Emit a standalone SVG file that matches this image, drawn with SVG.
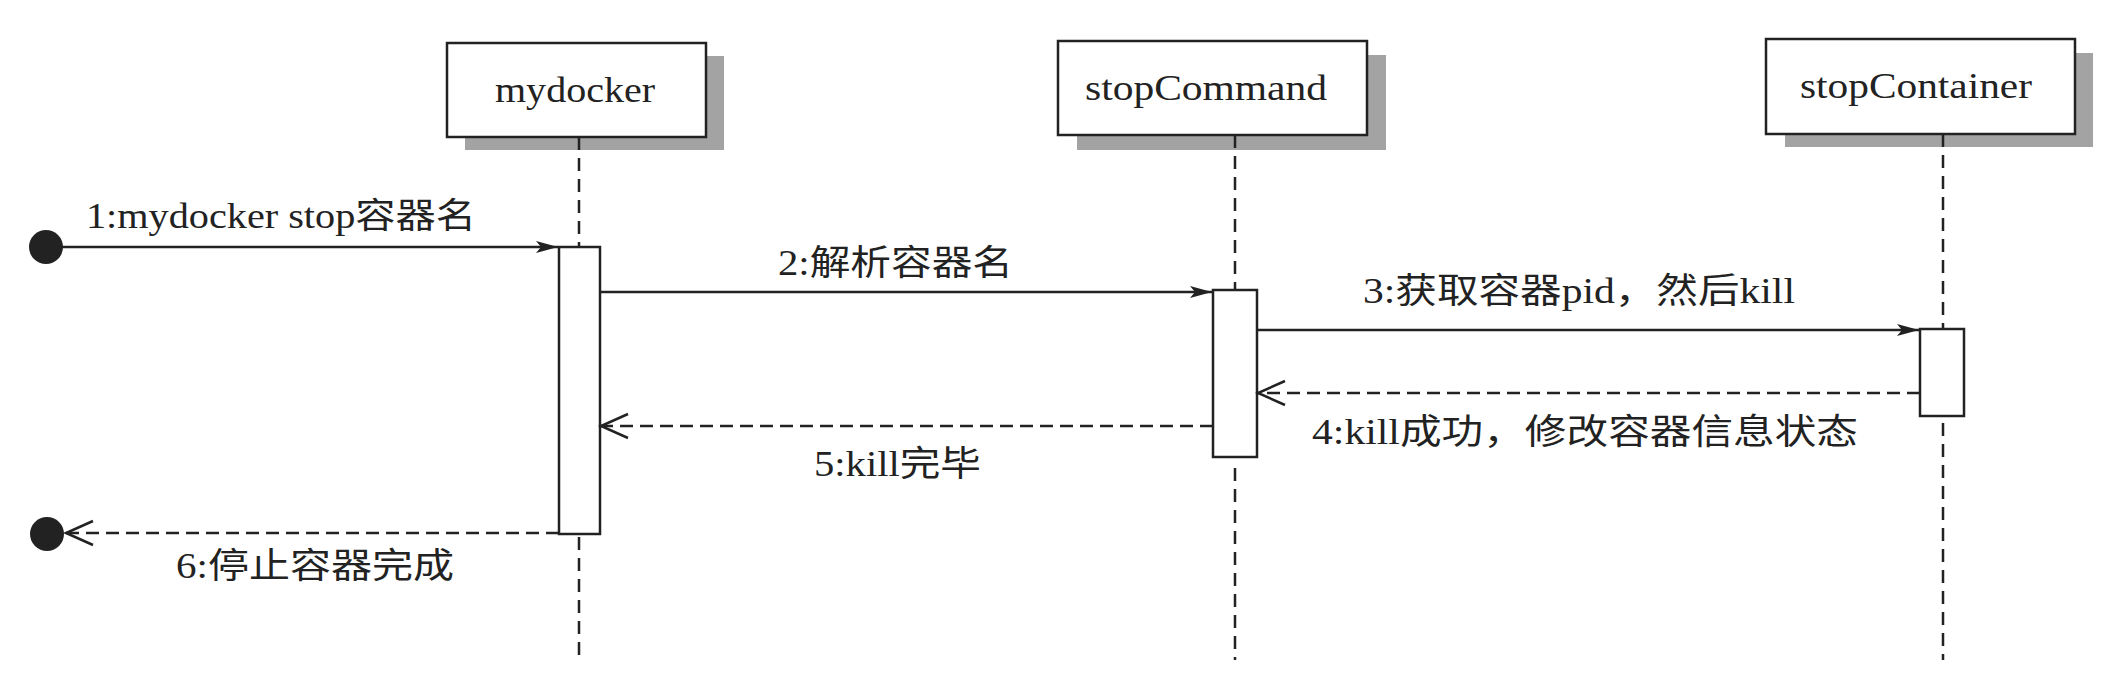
<svg xmlns="http://www.w3.org/2000/svg" width="2124" height="680" viewBox="0 0 2124 680">
  <style>
    .box { fill: #ffffff; stroke: #222222; stroke-width: 2.5; }
    .shadow { fill: #a3a3a3; stroke: none; }
    .act { fill: #ffffff; stroke: #222222; stroke-width: 2.5; }
    .life { stroke: #222222; stroke-width: 2.5; stroke-dasharray: 13 8; fill: none; }
    .msg { stroke: #222222; stroke-width: 2.5; fill: none; }
    .ret { stroke: #222222; stroke-width: 2.5; stroke-dasharray: 13 7; fill: none; }
    .lbl { font-family: "Liberation Serif", "Noto Sans CJK SC", serif; font-size: 35px; fill: #222222; }
    .lat { font-family: "Liberation Serif", serif; }
    .cjk { font-family: "Noto Sans CJK SC", sans-serif; }
    .name { font-family: "Liberation Serif", serif; font-size: 35px; fill: #222222; }
    .dot { fill: #222222; }
  </style>
  <defs>
    <marker id="solidHead" markerUnits="userSpaceOnUse" markerWidth="24" markerHeight="14" refX="22" refY="7" orient="auto" overflow="visible">
      <path d="M0,1 L22,7 L0,13 L5,7 Z" fill="#222222" stroke="none"/>
    </marker>
    <marker id="openHead" markerUnits="userSpaceOnUse" markerWidth="30" markerHeight="28" refX="27" refY="12" orient="auto" overflow="visible">
      <path d="M0,0 L27,12 L0,24" fill="none" stroke="#222222" stroke-width="2.5" stroke-dasharray="none"/>
    </marker>
  </defs>
  <rect width="2124" height="680" fill="#ffffff"/>

  <g id="node-mydocker">
    <rect class="shadow" x="465" y="56" width="259" height="94"/>
    <rect class="box" x="447" y="43" width="259" height="94"/>
    <text class="name" x="495" y="102" textLength="160" lengthAdjust="spacingAndGlyphs">mydocker</text>
  </g>
  <g id="node-stopCommand">
    <rect class="shadow" x="1077" y="55" width="309" height="95"/>
    <rect class="box" x="1058" y="41" width="309" height="94"/>
    <text class="name" x="1085" y="100" textLength="242" lengthAdjust="spacingAndGlyphs">stopCommand</text>
  </g>
  <g id="node-stopContainer">
    <rect class="shadow" x="1785" y="53" width="308" height="94"/>
    <rect class="box" x="1766" y="39" width="309" height="95"/>
    <text class="name" x="1800" y="98" textLength="232" lengthAdjust="spacingAndGlyphs">stopContainer</text>
  </g>
  <g id="node-start">
    <circle class="dot" cx="46" cy="247" r="17"/>
  </g>
  <g id="node-end">
    <circle class="dot" cx="47" cy="534" r="17"/>
  </g>

  <g id="connectors">
    <!-- lifelines -->
    <line class="life" x1="579" y1="137" x2="579" y2="247"/>
    <line class="life" x1="579" y1="537" x2="579" y2="660"/>
    <line class="life" x1="1235" y1="135" x2="1235" y2="290"/>
    <line class="life" x1="1235" y1="468" x2="1235" y2="660"/>
    <line class="life" x1="1943" y1="134" x2="1943" y2="329"/>
    <line class="life" x1="1943" y1="423" x2="1943" y2="660"/>

    <!-- activations -->
    <rect class="act" x="559" y="247" width="41" height="287"/>
    <rect class="act" x="1213" y="290" width="44" height="167"/>
    <rect class="act" x="1920" y="329" width="44" height="87"/>

    <!-- messages -->
    <line class="msg" x1="50" y1="247" x2="558" y2="247" marker-end="url(#solidHead)"/>
    <line class="msg" x1="600" y1="292" x2="1212" y2="292" marker-end="url(#solidHead)"/>
    <line class="msg" x1="1257" y1="330" x2="1919" y2="330" marker-end="url(#solidHead)"/>
    <line class="ret" x1="1920" y1="393" x2="1258" y2="393" marker-end="url(#openHead)"/>
    <line class="ret" x1="1213" y1="426" x2="601" y2="426" marker-end="url(#openHead)"/>
    <line class="ret" x1="559" y1="533" x2="66" y2="533" marker-end="url(#openHead)"/>

    <!-- labels -->
    <text class="lbl" x="86" y="228" textLength="390" lengthAdjust="spacingAndGlyphs"><tspan class="lat">1:mydocker stop</tspan><tspan class="cjk">容器名</tspan></text>
    <text class="lbl" x="778" y="275" textLength="235" lengthAdjust="spacingAndGlyphs"><tspan class="lat">2:</tspan><tspan class="cjk">解析容器名</tspan></text>
    <text class="lbl" x="1363" y="303" textLength="432" lengthAdjust="spacingAndGlyphs"><tspan class="lat">3:</tspan><tspan class="cjk">获取容器</tspan><tspan class="lat">pid</tspan><tspan class="cjk">，然后</tspan><tspan class="lat">kill</tspan></text>
    <text class="lbl" x="1312" y="444" textLength="546" lengthAdjust="spacingAndGlyphs"><tspan class="lat">4:kill</tspan><tspan class="cjk">成功，修改容器信息状态</tspan></text>
    <text class="lbl" x="814" y="476" textLength="167" lengthAdjust="spacingAndGlyphs"><tspan class="lat">5:kill</tspan><tspan class="cjk">完毕</tspan></text>
    <text class="lbl" x="176" y="578" textLength="278" lengthAdjust="spacingAndGlyphs"><tspan class="lat">6:</tspan><tspan class="cjk">停止容器完成</tspan></text>
  </g>
</svg>
